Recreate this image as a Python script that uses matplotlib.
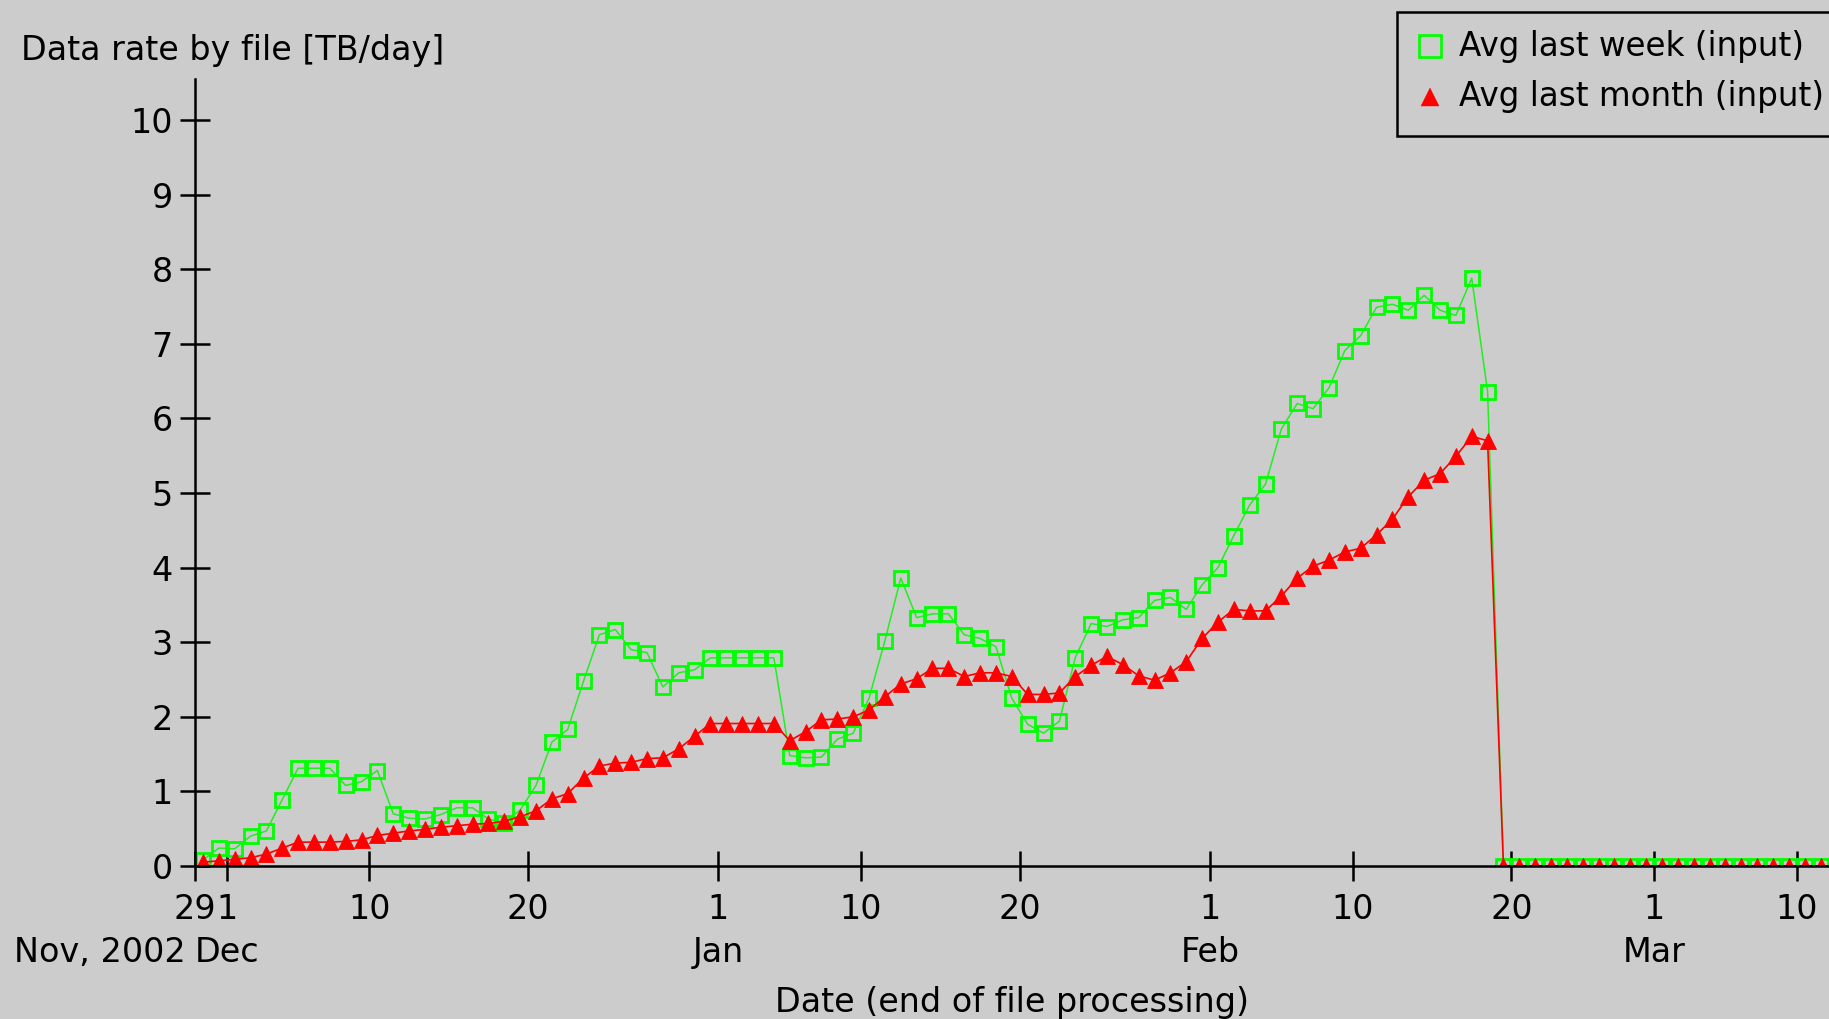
import datetime as dt

import matplotlib
matplotlib.use("Agg")
import matplotlib.pyplot as plt
import matplotlib.dates as mdates
import matplotlib.transforms as mtransforms
from matplotlib.patches import Rectangle
from matplotlib.lines import Line2D

# ---------------------------------------------------------------------------
# Data: daily averages of the input data rate (TB/day), one value per day,
# plotted at noon of each day starting 29 Nov 2002.
# ---------------------------------------------------------------------------
first_day = dt.datetime(2002, 11, 29, 12)

week_avg = [
    0.08, 0.24, 0.23, 0.40, 0.47, 0.89, 1.31, 1.31, 1.31, 1.08,
    1.13, 1.28, 0.70, 0.64, 0.63, 0.69, 0.78, 0.78, 0.63, 0.58,
    0.75, 1.08, 1.66, 1.83, 2.48, 3.10, 3.17, 2.90, 2.86, 2.40,
    2.59, 2.63, 2.79, 2.79, 2.79, 2.79, 2.79, 1.48, 1.45, 1.46,
    1.70, 1.78, 2.25, 3.02, 3.86, 3.33, 3.38, 3.38, 3.10, 3.05,
    2.94, 2.25, 1.90, 1.78, 1.94, 2.79, 3.25, 3.21, 3.30, 3.33,
    3.56, 3.60, 3.44, 3.77, 4.00, 4.43, 4.84, 5.12, 5.86, 6.20,
    6.13, 6.41, 6.91, 7.11, 7.49, 7.53, 7.45, 7.65, 7.45, 7.38,
    7.88, 6.36,
    0.0, 0.0, 0.0, 0.0, 0.0, 0.0, 0.0, 0.0, 0.0, 0.0, 0.0,
    0.0, 0.0, 0.0, 0.0, 0.0, 0.0, 0.0, 0.0, 0.0, 0.0, 0.0,
]

month_avg = [
    0.05, 0.07, 0.09, 0.11, 0.16, 0.24, 0.32, 0.32, 0.32, 0.33,
    0.35, 0.41, 0.44, 0.47, 0.49, 0.52, 0.54, 0.56, 0.57, 0.60,
    0.66, 0.74, 0.90, 0.97, 1.18, 1.34, 1.38, 1.39, 1.44, 1.45,
    1.57, 1.74, 1.91, 1.91, 1.91, 1.91, 1.91, 1.68, 1.80, 1.96,
    1.97, 2.00, 2.09, 2.27, 2.44, 2.51, 2.65, 2.65, 2.54, 2.59,
    2.59, 2.54, 2.30, 2.30, 2.32, 2.54, 2.69, 2.81, 2.70, 2.55,
    2.49, 2.59, 2.74, 3.05, 3.27, 3.44, 3.42, 3.42, 3.62, 3.86,
    4.02, 4.10, 4.21, 4.26, 4.44, 4.65, 4.95, 5.17, 5.26, 5.49,
    5.76, 5.70,
    0.0, 0.0, 0.0, 0.0, 0.0, 0.0, 0.0, 0.0, 0.0, 0.0, 0.0,
    0.0, 0.0, 0.0, 0.0, 0.0, 0.0, 0.0, 0.0, 0.0, 0.0, 0.0,
]

dates = [first_day + dt.timedelta(days=i) for i in range(len(week_avg))]

tick_dates = ["2002-11-29", "2002-12-01", "2002-12-10", "2002-12-20",
              "2003-01-01", "2003-01-10", "2003-01-20", "2003-02-01",
              "2003-02-10", "2003-02-20", "2003-03-01", "2003-03-10"]
tick_labels = ["29", "1", "10", "20", "1", "10", "20", "1", "10", "20", "1", "10"]

month_names = ["Dec", "Jan", "Feb", "Mar"]
month_dates = ["2002-12-01", "2003-01-01", "2003-02-01", "2003-03-01"]
year_label = "Nov, 2002"

y_ticks = [0, 1, 2, 3, 4, 5, 6, 7, 8, 9, 10]

series_names = ["Avg last week (input)", "Avg last month (input)"]

# ---------------------------------------------------------------------------
# Layout (pixel based, figure is 1829 x 1019 px)
# ---------------------------------------------------------------------------
W, H = 1829, 1019
BG = "#cccccc"
GREEN = "#00ff00"
RED = "#ff0000"
FS = 24


def fx(x):
    return x / W


def fy(y):
    return 1 - y / H


fig = plt.figure(figsize=(W / 100, H / 100), dpi=100, facecolor=BG)

ax_left, ax_right = 195, W
ax_bottom, ax_top = 866, 79
ax = fig.add_axes([fx(ax_left), fy(ax_bottom),
                   (ax_right - ax_left) / W, (ax_bottom - ax_top) / H])
ax.set_facecolor(BG)

x_start = dt.datetime(2002, 11, 29)
ax.set_xlim(x_start, x_start + dt.timedelta(days=(ax_right - ax_left) / 15.86))
ax.set_ylim(0, (ax_bottom - ax_top) / 74.6)

# series
ax.plot(dates, week_avg, color="#22ee22", lw=1.1, marker="s", ms=10.6,
        mfc="none", mec=GREEN, mew=2.0, zorder=3)
ax.plot(dates, month_avg, color=RED, lw=1.2, marker="^", ms=11,
        mfc=RED, mec=RED, mew=0.6, zorder=4)

# axes styling
for side in ("top", "right"):
    ax.spines[side].set_visible(False)
for side in ("left", "bottom"):
    ax.spines[side].set_linewidth(1.8)
    ax.spines[side].set_color("black")
    ax.spines[side].set_zorder(5)

ax.set_xticks([mdates.datestr2num(d) for d in tick_dates])
ax.set_xticklabels(tick_labels)
ax.set_yticks(y_ticks)
ax.set_yticklabels([str(v) for v in y_ticks])
ax.tick_params(axis="both", direction="inout", length=22.3, width=1.8,
               color="black", labelsize=FS, labelcolor="black")
ax.tick_params(axis="x", pad=8.0)
ax.tick_params(axis="y", pad=4.7)
ax.minorticks_off()

# month / year row below the day numbers
row = mtransforms.blended_transform_factory(ax.transData, fig.transFigure)
for name, d in zip(month_names, month_dates):
    ax.text(mdates.datestr2num(d), fy(962), name, transform=row,
            ha="center", va="baseline", fontsize=FS, clip_on=False)
fig.text(fx(14), fy(962), year_label, ha="left", va="baseline", fontsize=FS)

# axis titles
fig.text(fx(1012), fy(1012), "Date (end of file processing)",
         ha="center", va="baseline", fontsize=FS)
fig.text(fx(21), fy(60), "Data rate by file [TB/day]",
         ha="left", va="baseline", fontsize=FS)

# legend box (runs off the right edge)
fig.add_artist(Rectangle((fx(1397), fy(136)), fx(1950 - 1397), (136 - 12) / H,
                         transform=fig.transFigure, facecolor=BG,
                         edgecolor="black", lw=1.8, zorder=6))
fig.add_artist(Line2D([fx(1430)], [fy(45.5)], transform=fig.transFigure,
                      marker="s", ms=15.3, mfc="none", mec=GREEN, mew=1.95,
                      ls="none", zorder=7))
fig.add_artist(Line2D([fx(1430)], [fy(97)], transform=fig.transFigure,
                      marker="^", ms=12.5, mfc=RED, mec=RED, mew=0.3,
                      ls="none", zorder=7))
fig.text(fx(1459), fy(56), series_names[0], ha="left", va="baseline",
         fontsize=23.5, zorder=7)
fig.text(fx(1459), fy(106), series_names[1], ha="left", va="baseline",
         fontsize=23.5, zorder=7)

fig.savefig("out.png", dpi=100, facecolor=BG)
